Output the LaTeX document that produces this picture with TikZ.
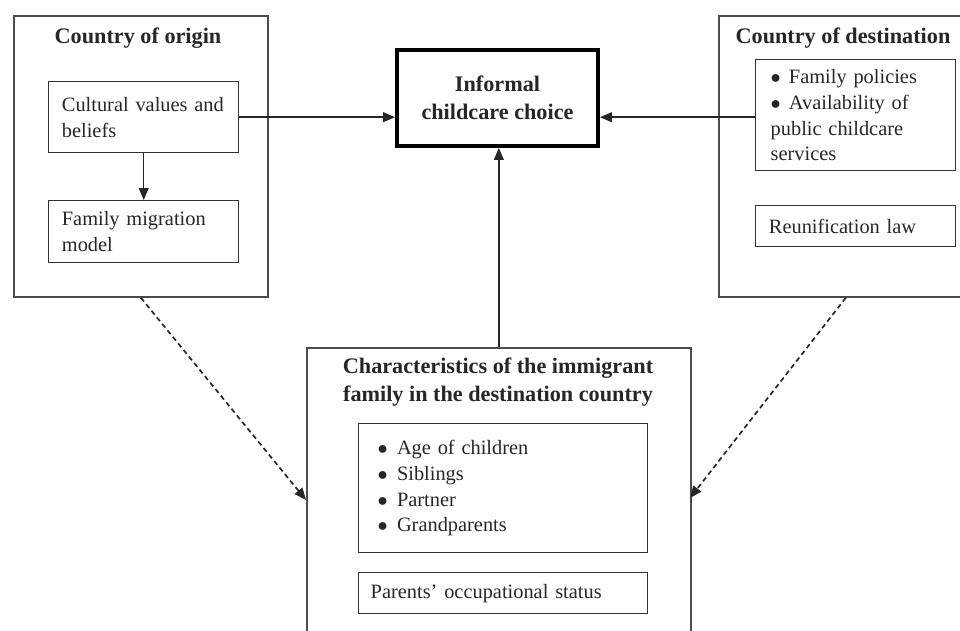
\documentclass[tikz,border=0pt]{standalone}
\usepackage{fontspec}
\setmainfont{Liberation Serif}
\usetikzlibrary{arrows.meta}

\begin{document}
\begin{tikzpicture}[
outerbox/.style={draw=black!70,line width=1.2pt,anchor=north west,inner sep=0pt},
innerbox/.style={draw=black!80,line width=1pt,anchor=north west,align=left,inner ysep=0pt,text=black!85,font=\fontsize{14.5}{18.3}\selectfont},
boxtitle/.style={align=center,text=black!85,font=\fontsize{15.8}{20}\selectfont\bfseries},
link/.style={black!85,line width=1pt,-{Triangle[length=8.5pt,width=7pt]}},
hint/.style={link,line width=1.2pt,dash pattern=on 3.5pt off 2.5pt}
]
\useasboundingbox (0,0) rectangle (24,-15.775);
\node[outerbox,minimum width=6.35cm,minimum height=7.025cm] (origin) at (0.325,-0.375) {};
\node[boxtitle] (originT) at (3.45,-0.95) {Country of origin};
\node[innerbox,inner xsep=0.33cm,text width=4.09cm,minimum height=1.775cm] (values) at (1.2,-2.025) {Cultural values and\\beliefs};
\node[innerbox,inner xsep=0.33cm,text width=4.09cm,minimum height=1.55cm] (migration) at (1.2,-5.0) {Family migration\\model};
\node[outerbox,minimum width=6.35cm,minimum height=7.025cm] (destination) at (17.95,-0.375) {};
\node[boxtitle] (destinationT) at (21.075,-0.95) {Country of destination};
\node[innerbox,inner xsep=0.375cm,text width=4.25cm,minimum height=2.775cm] (policies) at (18.875,-1.475) {$\bullet$\hspace{0.4em}Family policies\\$\bullet$\hspace{0.4em}Availability of\\public childcare\\services};
\node[innerbox,inner xsep=0.33cm,text width=4.34cm,minimum height=1.025cm] (reunion) at (18.875,-5.125) {Reunification law};
\node[draw=black,line width=2.8pt,minimum width=5.025cm,minimum height=2.4cm,boxtitle] (choice) at (12.4375,-2.45) {Informal\\childcare choice};
\node[outerbox,minimum width=9.6cm,minimum height=8cm] (family) at (7.65,-8.675) {};
\node[boxtitle] (familyT) at (12.45,-9.55) {Characteristics of the immigrant\\family in the destination country};
\node[innerbox,inner xsep=0.475cm,text width=6.275cm,minimum height=3.225cm] (kin) at (8.95,-10.575) {$\bullet$\hspace{0.45em}Age of children\\$\bullet$\hspace{0.45em}Siblings\\$\bullet$\hspace{0.45em}Partner\\$\bullet$\hspace{0.45em}Grandparents\\[4pt]};
\node[innerbox,inner xsep=0.3cm,text width=6.625cm,minimum height=1.025cm] (work) at (8.95,-14.3) {Parents' occupational status};
\coordinate (leftIn) at (7.65,-12.5);
\coordinate (rightIn) at (17.25,-12.45);
\draw[link] (values.south) -- (migration.north);
\draw[link] (values.east) -- (values.east -| choice.west);
\draw[link] (policies.west |- values.east) -- (values.east -| choice.east);
\draw[link] (family.north) -- (family.north |- choice.south);
\draw[hint] (origin.south) -- (leftIn);
\draw[hint] (destination.south) -- (rightIn);
\end{tikzpicture}
\end{document}
